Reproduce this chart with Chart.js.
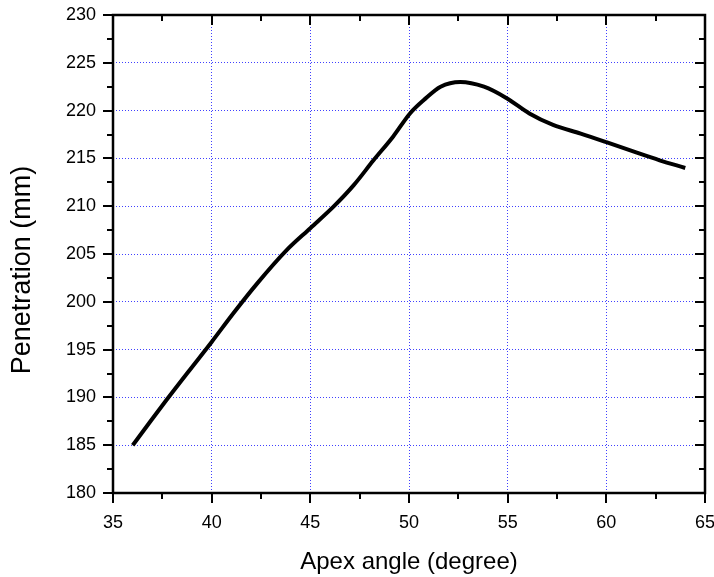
<!DOCTYPE html>
<html>
<head>
<meta charset="utf-8">
<script src="https://cdn.jsdelivr.net/npm/chart.js@4/dist/chart.umd.min.js"></script>
<style>
html,body{margin:0;padding:0;background:#fff;}
#wrap{width:714px;height:577px;}
</style>
</head>
<body>
<div id="wrap"><canvas id="c" width="714" height="577"></canvas></div>
<script>
const apexAngle = [36, 36.9, 37.7, 38.9, 40.0, 41.1, 42.3, 43.8, 45.0, 46.2, 47.2, 48.2, 49.2, 50.05, 50.75, 51.6, 52.6, 53.8, 54.95, 56.1, 57.3, 58.7, 60.0, 61.4, 62.7, 64.0];
const penetration = [185, 187.5, 189.7, 192.9, 195.8, 198.8, 201.9, 205.4, 207.7, 210.0, 212.2, 214.8, 217.3, 219.7, 221.1, 222.5, 223.0, 222.5, 221.3, 219.7, 218.5, 217.6, 216.7, 215.7, 214.8, 214.0];
const xTicks = [35, 40, 45, 50, 55, 60, 65];
const yTicks = [180, 185, 190, 195, 200, 205, 210, 215, 220, 225, 230];
const yTitle = 'Penetration (mm)';
const xTitle = 'Apex angle (degree)';

const FONT = "'Liberation Sans', Arial, sans-serif";

const framePlugin = {
  id: 'frame',
  afterDraw(chart) {
    const ctx = chart.ctx;
    const a = chart.chartArea;
    const xs = chart.scales.x, ys = chart.scales.y;
    ctx.save();
    ctx.strokeStyle = '#000';
    ctx.lineWidth = 2.5;
    ctx.lineCap = 'butt';
    ctx.strokeRect(a.left, a.top, a.right - a.left, a.bottom - a.top);
    ctx.lineWidth = 2;
    ctx.beginPath();
    for (let v = xs.min; v <= xs.max + 1e-9; v += 2.5) {
      const p = Math.round(xs.getPixelForValue(v));
      const major = Math.abs(v / 5 - Math.round(v / 5)) < 1e-6;
      const len = major ? 10 : 6;
      ctx.moveTo(p, a.bottom); ctx.lineTo(p, a.bottom + len);
      ctx.moveTo(p, a.top); ctx.lineTo(p, a.top + len);
    }
    for (let v = ys.min; v <= ys.max + 1e-9; v += 2.5) {
      const p = Math.round(ys.getPixelForValue(v));
      const major = Math.abs(v / 5 - Math.round(v / 5)) < 1e-6;
      const len = major ? 10 : 6;
      ctx.moveTo(a.left, p); ctx.lineTo(a.left - len, p);
      ctx.moveTo(a.right, p); ctx.lineTo(a.right - len, p);
    }
    ctx.stroke();
    // y axis title
    ctx.translate(23, 270);
    ctx.rotate(-Math.PI / 2);
    ctx.fillStyle = '#000';
    ctx.font = '27px ' + FONT;
    ctx.textAlign = 'center';
    ctx.textBaseline = 'middle';
    ctx.fillText(yTitle, 0, 0);
    ctx.restore();
  }
};

const gridColor = (c) => {
  const s = c.scale;
  if (c.tick && (c.tick.value === s.min || c.tick.value === s.max)) return 'rgba(0,0,0,0)';
  return 'rgba(30,30,255,0.85)';
};

new Chart(document.getElementById('c'), {
  type: 'line',
  data: {
    datasets: [{
      data: apexAngle.map((x, i) => ({x: x, y: penetration[i]})),
      borderColor: '#000',
      borderWidth: 4,
      pointRadius: 0,
      tension: 0.4,
      cubicInterpolationMode: 'monotone',
      fill: false
    }]
  },
  options: {
    responsive: false,
    animation: false,
    devicePixelRatio: 1,
    layout: { padding: { top: 15, right: 9, left: 0, bottom: 0 } },
    plugins: { legend: { display: false }, tooltip: { enabled: false } },
    scales: {
      x: {
        type: 'linear', min: 35, max: 65,
        afterBuildTicks: (s) => { s.ticks = xTicks.map(v => ({value: v})); },
        afterFit: (s) => { s.height = 84; s.paddingLeft = 0; s.paddingRight = 0; },
        border: { display: false, dash: [1, 2] },
        grid: { color: gridColor, lineWidth: 1, drawTicks: false },
        ticks: { color: '#000', font: { family: FONT, size: 18 }, padding: 19, maxRotation: 0 },
        title: { display: true, text: xTitle, color: '#000', font: { family: FONT, size: 24 }, padding: { top: 4, bottom: 0 } }
      },
      y: {
        type: 'linear', min: 180, max: 230,
        afterBuildTicks: (s) => { s.ticks = yTicks.map(v => ({value: v})); },
        afterFit: (s) => { s.width = 113; s.paddingTop = 0; s.paddingBottom = 0; },
        border: { display: false, dash: [1, 2] },
        grid: { color: gridColor, lineWidth: 1, drawTicks: false },
        ticks: { color: '#000', font: { family: FONT, size: 18 }, padding: 17 },
        title: { display: false }
      }
    }
  },
  plugins: [framePlugin]
});
</script>
</body>
</html>
